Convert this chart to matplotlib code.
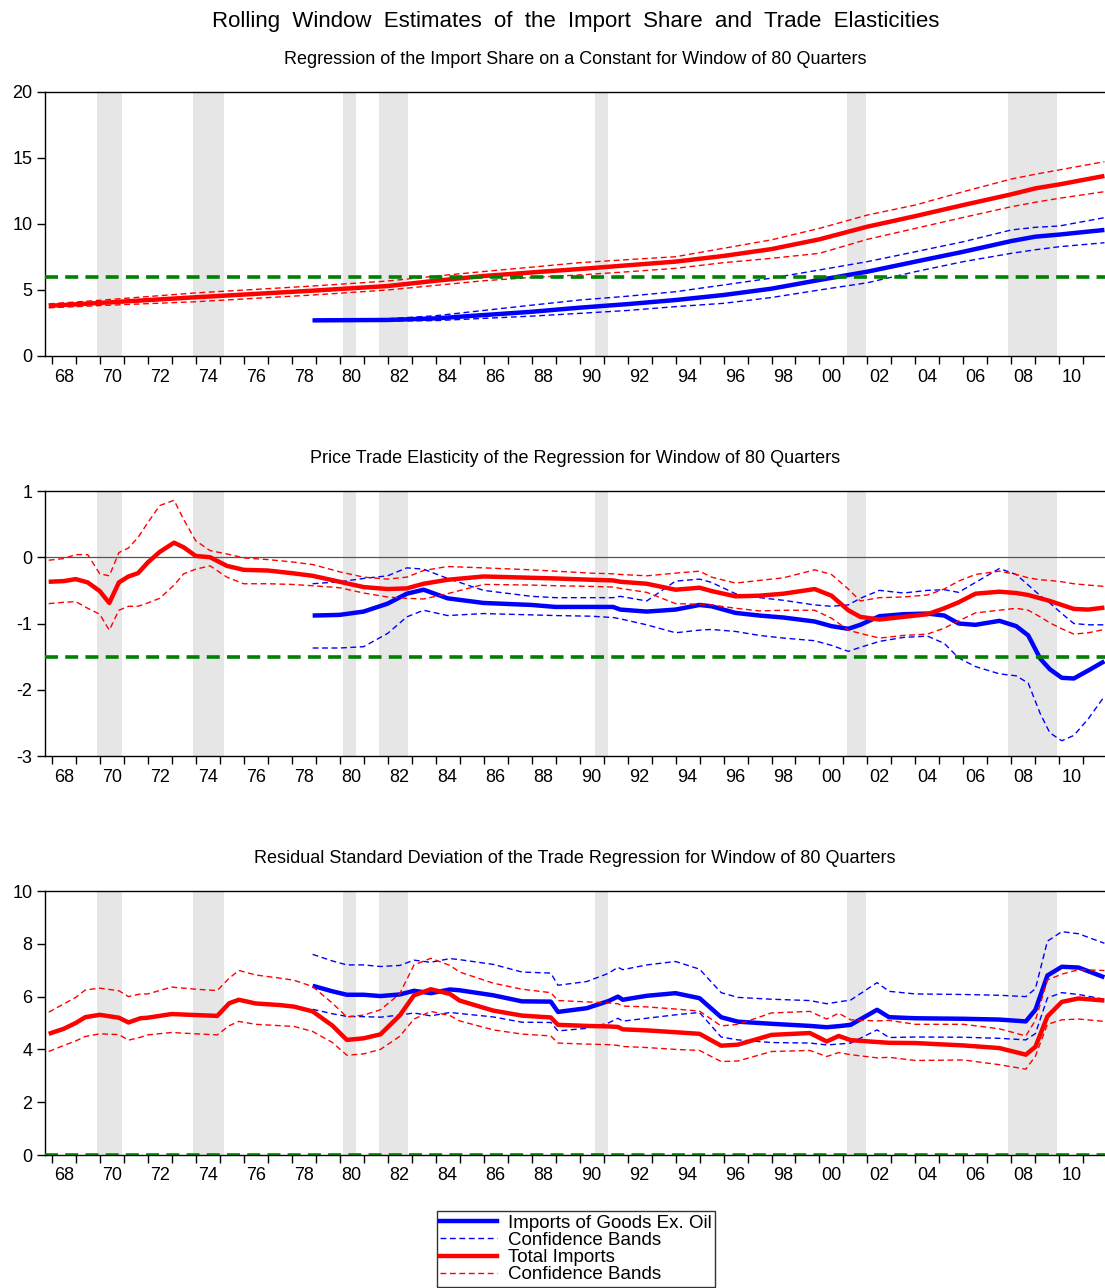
import numpy as np
import matplotlib
matplotlib.use("Agg")
import matplotlib.pyplot as plt
from matplotlib.lines import Line2D

plt.rcParams['font.family'] = ['Liberation Sans', 'DejaVu Sans']

nan = np.nan

# recession shading (fractional years)
rec_start = [1969.89, 1973.89, 1980.14, 1981.64, 1990.64, 2001.14, 2007.85]
rec_end = [1970.93, 1975.18, 1980.68, 1982.85, 1991.18, 2001.93, 2009.89]

# ---- panel 1: import share on a constant
t1 = [1967.875, 1970, 1974, 1978.875, 1982, 1984, 1986, 1988, 1990, 1992, 1994,
      1996, 1998, 2000, 2002, 2004, 2006, 2008, 2009, 2010, 2011.875]
tot_share = [3.80, 4.02, 4.45, 4.95, 5.30, 5.70, 6.06, 6.33, 6.59, 6.87, 7.15,
             7.58, 8.10, 8.84, 9.80, 10.60, 11.44, 12.25, 12.70, 13.00, 13.64]
tot_share_hi = [3.95, 4.22, 4.78, 5.30, 5.68, 6.05, 6.40, 6.73, 7.07, 7.30, 7.52,
                8.16, 8.80, 9.67, 10.68, 11.44, 12.45, 13.41, 13.77, 14.10, 14.72]
tot_share_lo = [3.65, 3.82, 4.11, 4.62, 5.00, 5.35, 5.70, 5.95, 6.14, 6.38, 6.64,
                7.07, 7.40, 7.78, 8.84, 9.67, 10.50, 11.31, 11.65, 11.95, 12.45]
gx_share = [nan, nan, nan, 2.70, 2.73, 2.85, 3.10, 3.35, 3.66, 3.93, 4.24,
            4.62, 5.10, 5.76, 6.39, 7.15, 7.90, 8.71, 9.04, 9.20, 9.55]
gx_share_hi = [nan, nan, nan, 2.75, 2.82, 3.05, 3.45, 3.85, 4.24, 4.53, 4.87,
               5.38, 5.90, 6.52, 7.15, 7.90, 8.66, 9.55, 9.75, 9.85, 10.48]
gx_share_lo = [nan, nan, nan, 2.65, 2.65, 2.68, 2.85, 3.02, 3.23, 3.45, 3.74,
               3.99, 4.43, 5.00, 5.55, 6.39, 7.15, 7.78, 8.05, 8.28, 8.58]

# ---- panel 2: price elasticity
t2 = [1967.875, 1968.5, 1969.0, 1969.5, 1970.0, 1970.4, 1970.8, 1971.2, 1971.6, 1972.0,
      1972.5, 1973.1, 1973.5, 1974.0, 1974.6, 1975.3, 1976.0, 1977.0, 1978.0, 1978.875,
      1980.0, 1981.0, 1982.0, 1982.8, 1983.5, 1984.5, 1986.0, 1988.0, 1989.0, 1990.5,
      1991.4, 1991.7, 1992.8, 1994.0, 1995.0, 1995.5, 1996.5, 1997.5, 1998.5, 1999.8,
      2000.5, 2001.2, 2001.7, 2002.5, 2003.5, 2004.5, 2005.2, 2005.8, 2006.5, 2007.5,
      2008.2, 2008.7, 2009.2, 2009.6, 2010.1, 2010.6, 2011.2, 2011.875]
tot_el = [-0.37, -0.36, -0.33, -0.38, -0.51, -0.69, -0.38, -0.29, -0.24, -0.08,
          0.08, 0.22, 0.15, 0.02, 0.0, -0.13, -0.19, -0.20, -0.24, -0.28,
          -0.37, -0.45, -0.48, -0.47, -0.40, -0.34, -0.29, -0.31, -0.32, -0.34,
          -0.35, -0.37, -0.40, -0.49, -0.46, -0.51, -0.59, -0.58, -0.55, -0.48,
          -0.58, -0.80, -0.90, -0.94, -0.90, -0.86, -0.77, -0.68, -0.55, -0.52,
          -0.54, -0.57, -0.62, -0.66, -0.72, -0.78, -0.79, -0.76]
tot_el_hi = [-0.045, -0.02, 0.04, 0.04, -0.25, -0.28, 0.07, 0.14, 0.30, 0.52,
             0.78, 0.86, 0.57, 0.25, 0.10, 0.05, -0.01, -0.035, -0.07, -0.11,
             -0.22, -0.30, -0.33, -0.30, -0.20, -0.14, -0.16, -0.19, -0.21, -0.24,
             -0.25, -0.26, -0.28, -0.24, -0.21, -0.30, -0.39, -0.35, -0.31, -0.19,
             -0.26, -0.48, -0.66, -0.61, -0.60, -0.57, -0.48, -0.36, -0.26, -0.21,
             -0.26, -0.31, -0.34, -0.35, -0.37, -0.40, -0.42, -0.44]
tot_el_lo = [-0.70, -0.68, -0.67, -0.77, -0.86, -1.10, -0.80, -0.74, -0.74, -0.69,
             -0.62, -0.42, -0.25, -0.18, -0.13, -0.30, -0.40, -0.40, -0.41, -0.43,
             -0.46, -0.54, -0.60, -0.62, -0.63, -0.55, -0.41, -0.42, -0.43, -0.44,
             -0.45, -0.47, -0.53, -0.70, -0.71, -0.72, -0.77, -0.81, -0.80, -0.80,
             -0.92, -1.10, -1.15, -1.22, -1.18, -1.16, -1.07, -0.96, -0.84, -0.80,
             -0.77, -0.80, -0.90, -0.99, -1.08, -1.16, -1.14, -1.09]
gx_el = [nan] * 19 + [
    -0.88, -0.87, -0.82, -0.70, -0.55, -0.49, -0.62, -0.69, -0.72, -0.75, -0.75,
    -0.75, -0.79, -0.82, -0.79, -0.72, -0.74, -0.84, -0.88, -0.91, -0.97,
    -1.04, -1.08, -1.02, -0.89, -0.86, -0.85, -0.88, -1.00, -1.02, -0.96,
    -1.04, -1.18, -1.53, -1.69, -1.82, -1.83, -1.71, -1.57]
gx_el_hi = [nan] * 19 + [
    -0.40, -0.37, -0.32, -0.28, -0.16, -0.18, -0.32, -0.50, -0.59, -0.61, -0.61,
    -0.61, -0.59, -0.66, -0.36, -0.33, -0.38, -0.55, -0.61, -0.65, -0.72,
    -0.74, -0.72, -0.62, -0.50, -0.54, -0.50, -0.49, -0.53, -0.38, -0.17,
    -0.26, -0.42, -0.58, -0.69, -0.85, -1.00, -1.02, -1.02]
gx_el_lo = [nan] * 19 + [
    -1.37, -1.37, -1.35, -1.15, -0.90, -0.80, -0.88, -0.85, -0.87, -0.88, -0.89,
    -0.91, -0.93, -1.02, -1.14, -1.10, -1.09, -1.12, -1.18, -1.22, -1.26,
    -1.33, -1.42, -1.36, -1.27, -1.21, -1.19, -1.30, -1.52, -1.65, -1.76,
    -1.79, -1.90, -2.36, -2.65, -2.77, -2.69, -2.44, -2.10]

# ---- panel 3: residual standard deviation
t3 = [1967.875, 1968.5, 1969.0, 1969.4, 1970.0, 1970.8, 1971.2, 1971.7, 1972.0, 1973.0,
      1974.0, 1974.9, 1975.4, 1975.8, 1976.5, 1977.5, 1978.1, 1978.875, 1979.7, 1980.3,
      1981.0, 1981.7, 1982.5, 1983.1, 1983.8, 1984.6, 1985.0, 1986.4, 1987.6, 1988.8,
      1989.1, 1990.3, 1991.2, 1991.6, 1991.8, 1992.8, 1994.0, 1995.0, 1995.9, 1996.6,
      1998.0, 1999.6, 2000.3, 2000.8, 2001.3, 2002.4, 2002.9, 2004.0, 2006.0, 2007.5,
      2008.6, 2009.0, 2009.5, 2010.1, 2010.8, 2011.875]
tot_sd = [4.59, 4.78, 5.00, 5.22, 5.31, 5.20, 5.02, 5.18, 5.20, 5.34,
          5.30, 5.27, 5.75, 5.88, 5.74, 5.68, 5.62, 5.44, 4.90, 4.36,
          4.42, 4.57, 5.28, 6.05, 6.28, 6.10, 5.85, 5.47, 5.28, 5.21,
          4.93, 4.89, 4.87, 4.85, 4.76, 4.72, 4.65, 4.59, 4.14, 4.18,
          4.55, 4.62, 4.30, 4.51, 4.35, 4.28, 4.25, 4.24, 4.15, 4.05,
          3.80, 4.10, 5.25, 5.80, 5.93, 5.85]
tot_sd_hi = [5.41, 5.72, 5.97, 6.25, 6.32, 6.22, 6.00, 6.10, 6.10, 6.36,
             6.28, 6.23, 6.70, 6.99, 6.82, 6.70, 6.62, 6.38, 5.75, 5.23,
             5.30, 5.50, 6.10, 7.20, 7.45, 7.18, 6.93, 6.51, 6.28, 6.15,
             5.85, 5.80, 5.76, 5.73, 5.64, 5.61, 5.53, 5.45, 4.89, 4.95,
             5.38, 5.44, 5.15, 5.37, 5.12, 5.08, 5.10, 4.95, 4.95, 4.78,
             4.51, 5.10, 6.63, 6.85, 7.02, 6.99]
tot_sd_lo = [3.92, 4.15, 4.32, 4.49, 4.59, 4.56, 4.35, 4.46, 4.55, 4.64,
             4.59, 4.55, 4.90, 5.06, 4.95, 4.90, 4.87, 4.68, 4.26, 3.78,
             3.83, 4.00, 4.49, 5.15, 5.44, 5.28, 5.08, 4.74, 4.58, 4.51,
             4.24, 4.20, 4.18, 4.15, 4.11, 4.07, 4.00, 3.96, 3.54, 3.56,
             3.92, 3.96, 3.73, 3.88, 3.80, 3.68, 3.70, 3.58, 3.60, 3.42,
             3.25, 3.75, 4.95, 5.12, 5.15, 5.06]
gx_sd = [nan] * 17 + [
    6.41, 6.20, 6.07, 6.07, 6.02, 6.08, 6.22, 6.13, 6.27, 6.24, 6.05, 5.82, 5.81,
    5.42, 5.56, 5.83, 6.00, 5.88, 6.03, 6.13, 5.94, 5.22, 5.05,
    4.97, 4.89, 4.84, 4.88, 4.93, 5.50, 5.22, 5.18, 5.16, 5.13,
    5.06, 5.50, 6.80, 7.13, 7.10, 6.73]
gx_sd_hi = [nan] * 17 + [
    7.60, 7.35, 7.20, 7.20, 7.14, 7.18, 7.38, 7.30, 7.44, 7.40, 7.22, 6.93, 6.89,
    6.43, 6.57, 6.88, 7.11, 7.02, 7.20, 7.33, 7.04, 6.15, 5.97,
    5.90, 5.85, 5.73, 5.80, 5.87, 6.53, 6.20, 6.10, 6.08, 6.05,
    6.00, 6.30, 8.10, 8.46, 8.38, 8.02]
gx_sd_lo = [nan] * 17 + [
    5.52, 5.35, 5.25, 5.24, 5.22, 5.30, 5.38, 5.27, 5.40, 5.36, 5.23, 5.03, 5.02,
    4.70, 4.80, 5.00, 5.18, 5.07, 5.18, 5.31, 5.40, 4.47, 4.36,
    4.26, 4.24, 4.17, 4.20, 4.24, 4.74, 4.45, 4.47, 4.46, 4.42,
    4.36, 4.60, 5.95, 6.15, 6.08, 5.90]

panels = [
    dict(t=t1, gx=(gx_share, gx_share_hi, gx_share_lo), tot=(tot_share, tot_share_hi, tot_share_lo),
         title="Regression of the Import Share on a Constant for Window of 80 Quarters",
         ylim=(0, 20), yticks=[0, 5, 10, 15, 20], ref=6.0, zero=False),
    dict(t=t2, gx=(gx_el, gx_el_hi, gx_el_lo), tot=(tot_el, tot_el_hi, tot_el_lo),
         title="Price Trade Elasticity of the Regression for Window of 80 Quarters",
         ylim=(-3, 1), yticks=[-3, -2, -1, 0, 1], ref=-1.5, zero=True),
    dict(t=t3, gx=(gx_sd, gx_sd_hi, gx_sd_lo), tot=(tot_sd, tot_sd_hi, tot_sd_lo),
         title="Residual Standard Deviation of the Trade Regression for Window of 80 Quarters",
         ylim=(0, 10), yticks=[0, 2, 4, 6, 8, 10], ref=0.0, zero=False),
]

W, H = 1105, 1288
fig = plt.figure(figsize=(W / 100, H / 100), dpi=100)
tops = [92, 491, 891]
bots = [356, 756, 1155]
ax_left, ax_right = 45, 1105

solid_lw = 3.2
band_ls = (0, (4.2, 2.6))
green_ls = (0, (3.6, 2.0))

fig.text(576 / W, 1 - 21 / H, "Rolling  Window  Estimates  of  the  Import  Share  and  Trade  Elasticities",
         ha='center', va='center', fontsize=16)

for p, top, bot in zip(panels, tops, bots):
    ax = fig.add_axes([ax_left / W, 1 - bot / H, (ax_right - ax_left) / W, (bot - top) / H])
    for s, e in zip(rec_start, rec_end):
        ax.axvspan(s, e, color='#e6e6e6', lw=0, zorder=0)
    if p['zero']:
        ax.axhline(0, color='#555555', lw=0.9, zorder=1)
    t = p['t']
    gm, gh, gl = p['gx']
    tm, th, tl = p['tot']
    ax.plot(t, gm, color='#0000ff', lw=solid_lw, zorder=3, solid_capstyle='butt')
    ax.plot(t, gh, color='#0000ff', lw=1.0, ls=band_ls, zorder=3)
    ax.plot(t, gl, color='#0000ff', lw=1.0, ls=band_ls, zorder=3)
    ax.plot(t, tm, color='#ff0000', lw=solid_lw, zorder=4, solid_capstyle='butt')
    ax.plot(t, th, color='#ff0000', lw=1.0, ls=band_ls, zorder=4)
    ax.plot(t, tl, color='#ff0000', lw=1.0, ls=band_ls, zorder=4)
    ax.axhline(p['ref'], color='#008000', lw=2.6, ls=green_ls, zorder=5)

    ax.set_xlim(1967.72, 2011.9)
    ax.set_ylim(*p['ylim'])
    ax.set_yticks(p['yticks'])
    ax.set_yticklabels([str(v) for v in p['yticks']], fontsize=13)
    years = list(range(1968, 2012))
    ax.set_xticks(years)
    ax.set_xticklabels([])
    lab_years = list(range(1968, 2012, 2))
    ax.set_xticks([y + 0.5 for y in lab_years], minor=True)
    ax.set_xticklabels(["%02d" % (y % 100) for y in lab_years], minor=True, fontsize=13)
    ax.tick_params(axis='x', which='major', direction='out', length=6, width=1)
    ax.tick_params(axis='x', which='minor', length=0, pad=9)
    ax.tick_params(axis='y', direction='out', length=6, width=1, pad=3)
    ax.spines['right'].set_visible(False)
    for sp in ('left', 'top', 'bottom'):
        ax.spines[sp].set_linewidth(1.0)
    ax.set_title(p['title'], fontsize=13, pad=0, y=1 + 28 / (bot - top))

handles = [
    Line2D([], [], color='#0000ff', lw=solid_lw),
    Line2D([], [], color='#0000ff', lw=1.0, ls=band_ls),
    Line2D([], [], color='#ff0000', lw=solid_lw),
    Line2D([], [], color='#ff0000', lw=1.0, ls=band_ls),
]
labels = ["Imports of Goods Ex. Oil", "Confidence Bands", "Total Imports", "Confidence Bands"]
leg = fig.legend(handles, labels, loc='upper center', bbox_to_anchor=(576 / W, 1 - 1211 / H),
                 fontsize=13.5, frameon=True, fancybox=False, edgecolor='black',
                 labelspacing=0.0, handlelength=3.0, handletextpad=0.6,
                 borderpad=0.2, borderaxespad=0)
leg.get_frame().set_linewidth(1.0)

fig.savefig("out.png", dpi=100)
